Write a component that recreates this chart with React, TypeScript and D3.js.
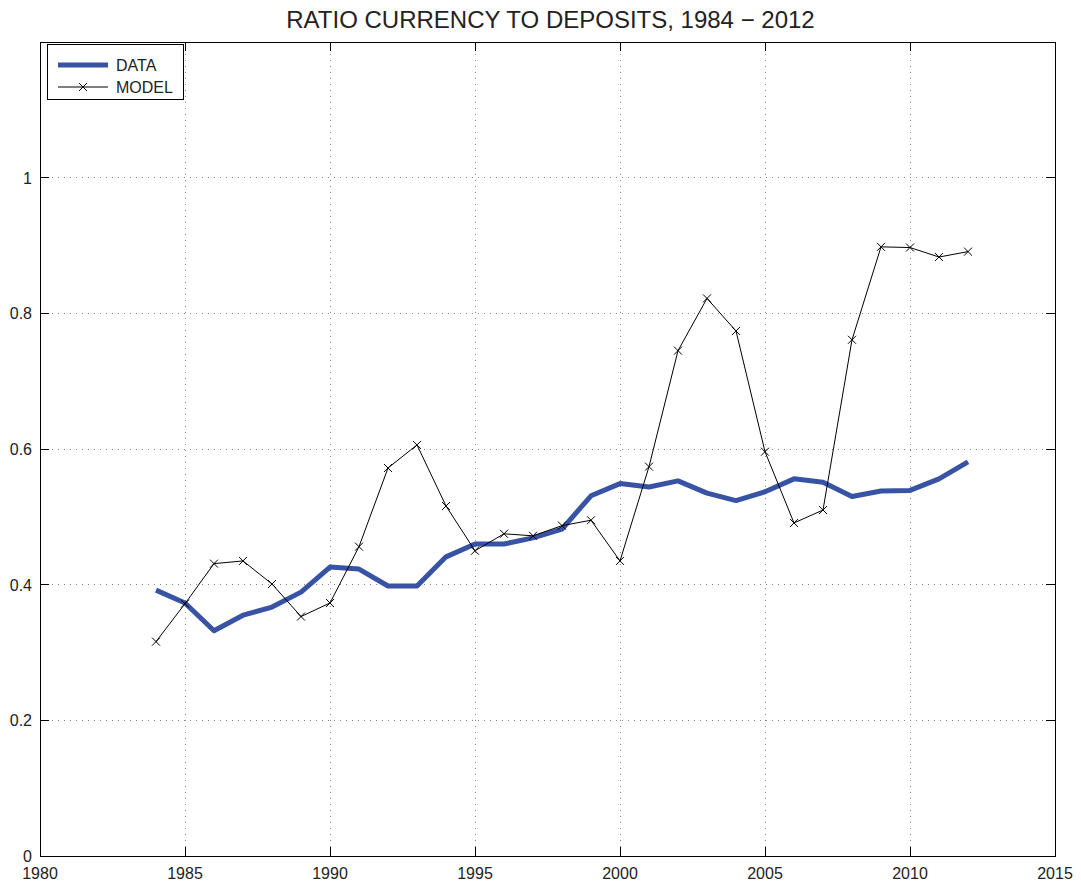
import React from 'react';
import * as d3 from 'd3';

const years = d3.range(1984, 2013);
const dataValues = [
  0.392, 0.373, 0.332, 0.355, 0.367, 0.389, 0.426, 0.423, 0.398, 0.398,
  0.441, 0.46, 0.46, 0.469, 0.482, 0.531, 0.549, 0.544, 0.553, 0.535,
  0.524, 0.537, 0.556, 0.551, 0.53, 0.538, 0.539, 0.556, 0.581,
];
const modelValues = [
  0.316, 0.372, 0.431, 0.435, 0.401, 0.353, 0.373, 0.456, 0.572, 0.606,
  0.516, 0.45, 0.475, 0.472, 0.487, 0.495, 0.435, 0.574, 0.745, 0.822,
  0.774, 0.596, 0.491, 0.51, 0.761, 0.898, 0.897, 0.883, 0.891,
];
const xTicks = [1980, 1985, 1990, 1995, 2000, 2005, 2010, 2015];
const yTicks = [0, 0.2, 0.4, 0.6, 0.8, 1];

const W = 1081;
const H = 886;
const margin = { top: 42, right: 26, bottom: 30, left: 40 };
const BLUE = '#3953a4';
const FONT = 'Liberation Sans, Arial, Helvetica, sans-serif';

export default function App() {
  const x = d3.scaleLinear().domain([1980, 2015]).range([margin.left, W - margin.right]);
  const y = d3.scaleLinear().domain([0, 1.2]).range([H - margin.bottom, margin.top]);
  const [x0, x1] = x.range();
  const [y0, y1] = y.range(); // y0 bottom, y1 top
  const tk = 9; // inward tick length

  const line = d3.line<number>()
    .x((_, i) => x(years[i]))
    .y((d) => y(d));

  // legend
  const lg = { x: 47, y: 44, w: 136, h: 55 };

  return (
    <div style={{ position: 'absolute', left: 0, top: 0 }}>
      <svg width={W} height={H} style={{ display: 'block', background: '#fff' }} fontFamily={FONT}>
        <text x={(x0 + x1) / 2 + 3} y={28} textAnchor="middle" fontSize={24} fill="#222">
          RATIO CURRENCY TO DEPOSITS, 1984 − 2012
        </text>

        {/* grid */}
        <g stroke="#888" strokeWidth={1} strokeDasharray="1,5" shapeRendering="crispEdges">
          {xTicks.slice(1, -1).map((t) => (
            <line key={'gx' + t} x1={x(t)} x2={x(t)} y1={y1} y2={y0} />
          ))}
          {yTicks.slice(1).map((t) => (
            <line key={'gy' + t} x1={x0} x2={x1} y1={y(t)} y2={y(t)} />
          ))}
        </g>

        {/* ticks, all four sides, pointing inward */}
        <g stroke="#000" strokeWidth={1} shapeRendering="crispEdges">
          {xTicks.map((t) => (
            <g key={'tx' + t}>
              <line x1={x(t)} x2={x(t)} y1={y0} y2={y0 - tk} />
              <line x1={x(t)} x2={x(t)} y1={y1} y2={y1 + tk} />
            </g>
          ))}
          {yTicks.map((t) => (
            <g key={'ty' + t}>
              <line x1={x0} x2={x0 + tk} y1={y(t)} y2={y(t)} />
              <line x1={x1} x2={x1 - tk} y1={y(t)} y2={y(t)} />
            </g>
          ))}
        </g>

        {/* tick labels */}
        <g fontSize={16} fill="#222">
          {xTicks.map((t) => (
            <text key={'lx' + t} x={x(t)} y={y0 + 23} textAnchor="middle">{t}</text>
          ))}
          {yTicks.map((t) => (
            <text key={'ly' + t} x={x0 - 8} y={y(t) + 6} textAnchor="end">{t}</text>
          ))}
        </g>

        {/* series */}
        <path d={line(dataValues) ?? ''} fill="none" stroke={BLUE} strokeWidth={5} strokeLinejoin="round" />
        <path d={line(modelValues) ?? ''} fill="none" stroke="#000" strokeWidth={1} />
        <g stroke="#000" strokeWidth={1}>
          {modelValues.map((v, i) => {
            const cx = x(years[i]);
            const cy = y(v);
            return (
              <path key={'m' + i} d={`M${cx - 4},${cy - 4}L${cx + 4},${cy + 4}M${cx - 4},${cy + 4}L${cx + 4},${cy - 4}`} />
            );
          })}
        </g>

        {/* axes box */}
        <rect x={x0} y={y1} width={x1 - x0} height={y0 - y1} fill="none" stroke="#000" strokeWidth={1} shapeRendering="crispEdges" />

        {/* legend */}
        <g>
          <rect x={lg.x} y={lg.y} width={lg.w} height={lg.h} fill="#fff" stroke="#000" strokeWidth={1} shapeRendering="crispEdges" />
          <line x1={lg.x + 11} x2={lg.x + 61} y1={lg.y + 21} y2={lg.y + 21} stroke={BLUE} strokeWidth={5} />
          <text x={lg.x + 69} y={lg.y + 27} fontSize={16} fill="#222">DATA</text>
          <line x1={lg.x + 11} x2={lg.x + 61} y1={lg.y + 43} y2={lg.y + 43} stroke="#000" strokeWidth={1} />
          <path
            d={`M${lg.x + 32},${lg.y + 39}L${lg.x + 40},${lg.y + 47}M${lg.x + 32},${lg.y + 47}L${lg.x + 40},${lg.y + 39}`}
            stroke="#000"
            strokeWidth={1}
          />
          <text x={lg.x + 69} y={lg.y + 49} fontSize={16} fill="#222">MODEL</text>
        </g>
      </svg>
    </div>
  );
}
